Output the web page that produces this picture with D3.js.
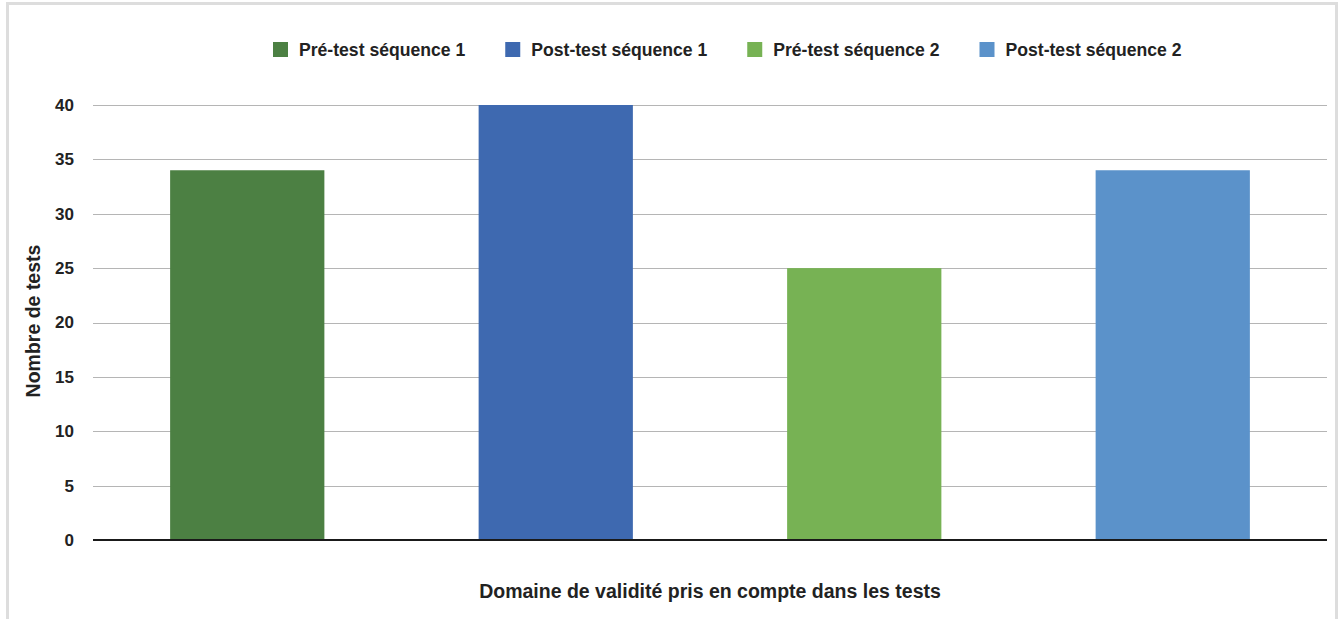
<!DOCTYPE html>
<html>
<head>
<meta charset="utf-8">
<title>Nombre de tests</title>
<script src="https://cdn.jsdelivr.net/npm/d3@7/dist/d3.min.js"></script>
<style>
  body { margin: 0; background: #fff; }
  text { font-family: "Liberation Sans", Arial, Helvetica, sans-serif; font-weight: bold; fill: #222; }
</style>
</head>
<body>
<script>
  // données
  var series = ["Pré-test séquence 1", "Post-test séquence 1", "Pré-test séquence 2", "Post-test séquence 2"];
  var values = [34, 40, 25, 34];
  var colors = ["#4c8043", "#3e69b0", "#77b254", "#5b92ca"];
  var yTicks = [0, 5, 10, 15, 20, 25, 30, 35, 40];
  var xTitle = "Domaine de validité pris en compte dans les tests";
  var yTitle = "Nombre de tests";

  var width = 1340, height = 619;
  var margin = { top: 105, right: 13, bottom: 79, left: 93 };

  var svg = d3.select("body").append("svg").attr("width", width).attr("height", height);

  // cadre
  svg.append("rect")
    .attr("x", 7.5).attr("y", 3.5)
    .attr("width", 1329).attr("height", 640)
    .attr("fill", "#fff").attr("stroke", "#ddd").attr("stroke-width", 3);

  var x = d3.scaleBand()
    .domain(series)
    .range([margin.left, width - margin.right])
    .paddingInner(0.5)
    .paddingOuter(0.25);

  var y = d3.scaleLinear()
    .domain([0, 40])
    .range([height - margin.bottom, margin.top]);

  // grille
  svg.append("g")
    .selectAll("line")
    .data(yTicks.filter(function(d) { return d > 0; }))
    .enter()
    .append("line")
    .attr("x1", margin.left).attr("x2", width - margin.right)
    .attr("y1", function(d) { return Math.round(y(d)) + 0.5; })
    .attr("y2", function(d) { return Math.round(y(d)) + 0.5; })
    .attr("stroke", "#b5b5b5").attr("stroke-width", 1);

  // axe y
  var axisy = d3.axisLeft(y).tickValues(yTicks).tickSize(0).tickPadding(19);
  var gy = svg.append("g")
    .attr("transform", "translate(" + margin.left + ",0)")
    .call(axisy);
  gy.select(".domain").remove();
  gy.selectAll("text").attr("font-size", "17px").attr("fill", "#222")
    .attr("font-family", "Liberation Sans, Arial, sans-serif");

  // barres
  svg.append("g")
    .selectAll("rect")
    .data(values)
    .enter()
    .append("rect")
    .attr("x", function(d, i) { return x(series[i]); })
    .attr("y", function(d) { return y(d); })
    .attr("width", x.bandwidth())
    .attr("height", function(d) { return y(0) - y(d); })
    .attr("fill", function(d, i) { return colors[i]; });

  // ligne zéro
  svg.append("line")
    .attr("x1", margin.left).attr("x2", width - margin.right)
    .attr("y1", y(0)).attr("y2", y(0))
    .attr("stroke", "#1a1a1a").attr("stroke-width", 2);

  // titres
  svg.append("text")
    .attr("x", 710)
    .attr("y", 598)
    .attr("text-anchor", "middle")
    .attr("font-size", "19.5px")
    .text(xTitle);

  svg.append("text")
    .attr("transform", "translate(40," + 321 + ") rotate(-90)")
    .attr("text-anchor", "middle")
    .attr("font-size", "19.5px")
    .text(yTitle);

  // légende
  var legend = svg.append("g");
  var lx = 273;
  series.forEach(function(s, i) {
    var g = legend.append("g").attr("transform", "translate(" + lx + ",42)");
    g.append("rect").attr("width", 15).attr("height", 15).attr("fill", colors[i]);
    var t = g.append("text").attr("x", 26).attr("y", 13.5).attr("font-size", "17.6px").text(s);
    lx += 26 + t.node().getComputedTextLength() + 40;
  });
</script>
</body>
</html>
